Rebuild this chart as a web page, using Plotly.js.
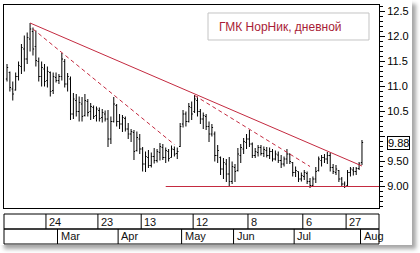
<!DOCTYPE html>
<html>
<head>
<meta charset="utf-8">
<script src="https://cdn.plot.ly/plotly-3.0.1.min.js"></script>
<style>
  html, body { margin: 0; padding: 0; background: #fff; }
  #chart { position: absolute; left: 0; top: 0; width: 412px; height: 245px;
           background: #fff; box-shadow: 4px 4px 4px rgba(0,0,0,0.35); }
</style>
</head>
<body>
<div id="chart"></div>
<script>
// Daily trading sessions, GMK Norilsk Nickel, Feb - Aug 2015
const tradingDays = [
  '2015-02-03','2015-02-04','2015-02-05','2015-02-06','2015-02-09','2015-02-10','2015-02-11','2015-02-12','2015-02-13','2015-02-16',
  '2015-02-17','2015-02-18','2015-02-19','2015-02-20','2015-02-24','2015-02-25','2015-02-26','2015-02-27','2015-03-02','2015-03-03',
  '2015-03-04','2015-03-05','2015-03-06','2015-03-10','2015-03-11','2015-03-12','2015-03-13','2015-03-16','2015-03-17','2015-03-18',
  '2015-03-19','2015-03-20','2015-03-23','2015-03-24','2015-03-25','2015-03-26','2015-03-27','2015-03-30','2015-03-31','2015-04-01',
  '2015-04-02','2015-04-03','2015-04-06','2015-04-07','2015-04-08','2015-04-09','2015-04-10','2015-04-13','2015-04-14','2015-04-15',
  '2015-04-16','2015-04-17','2015-04-20','2015-04-21','2015-04-22','2015-04-23','2015-04-24','2015-04-27','2015-04-28','2015-04-29',
  '2015-04-30','2015-05-05','2015-05-06','2015-05-07','2015-05-08','2015-05-12','2015-05-13','2015-05-14','2015-05-15','2015-05-18',
  '2015-05-19','2015-05-20','2015-05-21','2015-05-22','2015-05-25','2015-05-26','2015-05-27','2015-05-28','2015-05-29','2015-06-01',
  '2015-06-02','2015-06-03','2015-06-04','2015-06-05','2015-06-08','2015-06-09','2015-06-10','2015-06-11','2015-06-15','2015-06-16',
  '2015-06-17','2015-06-18','2015-06-19','2015-06-22','2015-06-23','2015-06-24','2015-06-25','2015-06-26','2015-06-29','2015-06-30',
  '2015-07-01','2015-07-02','2015-07-03','2015-07-06','2015-07-07','2015-07-08','2015-07-09','2015-07-10','2015-07-13','2015-07-14',
  '2015-07-15','2015-07-16','2015-07-17','2015-07-20','2015-07-21','2015-07-22','2015-07-23','2015-07-24','2015-07-27','2015-07-28',
  '2015-07-29','2015-07-30','2015-07-31','2015-08-03'
];

// Prices, thousand RUB
const openVals = [
  11.15, 11.28, 10.95, 10.93, 11.20, 11.40, 11.75, 11.55, 11.95, 12.10,
  11.80, 11.50, 11.20, 11.35, 11.12, 11.28, 10.92, 11.18, 11.12, 11.20,
  11.50, 11.05, 11.15, 10.45, 10.72, 10.50, 10.65, 10.42, 10.70, 10.50,
  10.58, 10.42, 10.52, 10.38, 10.45, 10.35, 9.95, 10.30, 10.62, 10.30,
  10.25, 10.36, 10.15, 10.05, 10.08, 9.72, 9.95, 9.75, 9.45, 9.58,
  9.42, 9.60, 9.52, 9.68, 9.78, 9.58, 9.70, 9.58, 9.74, 9.66,
  9.80, 10.25, 10.45, 10.30, 10.58, 10.50, 10.72, 10.50, 10.35, 10.40,
  10.20, 10.05, 10.05, 9.62, 9.58, 9.35, 9.45, 9.25, 9.10, 9.38,
  9.32, 9.62, 9.75, 9.88, 9.95, 9.85, 9.62, 9.68, 9.78, 9.66,
  9.72, 9.62, 9.70, 9.55, 9.63, 9.52, 9.45, 9.55, 9.65, 9.48,
  9.28, 9.30, 9.15, 9.20, 9.26, 9.10, 9.02, 9.15, 9.32, 9.52,
  9.58, 9.55, 9.62, 9.38, 9.28, 9.32, 9.15, 9.05, 9.02, 9.28,
  9.33, 9.30, 9.36, 9.48
];
const highVals = [
  11.45, 11.30, 11.10, 11.28, 11.50, 11.85, 12.02, 12.08, 12.27, 12.18,
  12.12, 11.58, 11.50, 11.45, 11.40, 11.30, 11.28, 11.28, 11.25, 11.67,
  11.55, 11.27, 11.20, 10.87, 10.85, 10.80, 10.79, 10.85, 10.75, 10.67,
  10.62, 10.60, 10.58, 10.55, 10.52, 10.53, 10.40, 10.79, 10.65, 10.45,
  10.43, 10.40, 10.27, 10.15, 10.13, 10.10, 10.05, 9.79, 9.70, 9.73,
  9.68, 9.77, 9.75, 9.87, 9.85, 9.78, 9.75, 9.82, 9.80, 9.78,
  10.27, 10.53, 10.50, 10.67, 10.70, 10.83, 10.80, 10.55, 10.48, 10.45,
  10.30, 10.25, 10.10, 9.83, 9.60, 9.57, 9.55, 9.59, 9.50, 9.45,
  9.77, 9.85, 9.97, 10.05, 10.13, 9.88, 9.77, 9.83, 9.83, 9.80,
  9.79, 9.78, 9.75, 9.72, 9.70, 9.63, 9.60, 9.75, 9.66, 9.49,
  9.40, 9.30, 9.28, 9.33, 9.30, 9.17, 9.20, 9.39, 9.60, 9.63,
  9.65, 9.69, 9.67, 9.45, 9.43, 9.33, 9.19, 9.10, 9.33, 9.39,
  9.39, 9.39, 9.49, 9.93
];
const lowVals = [
  11.10, 10.90, 10.72, 10.92, 11.12, 11.25, 11.30, 11.45, 11.70, 11.62,
  11.40, 11.10, 11.00, 11.00, 10.98, 10.80, 10.85, 11.08, 11.05, 11.12,
  10.98, 10.90, 10.33, 10.35, 10.40, 10.30, 10.30, 10.40, 10.40, 10.33,
  10.35, 10.30, 10.30, 10.28, 10.30, 9.79, 9.85, 10.28, 10.20, 10.15,
  10.09, 10.10, 9.95, 9.89, 9.53, 9.70, 9.65, 9.30, 9.29, 9.37,
  9.38, 9.46, 9.48, 9.52, 9.53, 9.47, 9.50, 9.58, 9.60, 9.55,
  9.79, 10.18, 10.20, 10.28, 10.33, 10.47, 10.40, 10.25, 10.15, 10.13,
  9.89, 10.00, 9.50, 9.47, 9.23, 9.15, 9.09, 8.99, 9.05, 9.09,
  9.30, 9.47, 9.65, 9.75, 9.79, 9.57, 9.57, 9.60, 9.62, 9.59,
  9.58, 9.55, 9.50, 9.52, 9.47, 9.37, 9.40, 9.45, 9.45, 9.20,
  9.19, 9.09, 9.10, 9.13, 9.05, 8.97, 9.00, 9.07, 9.30, 9.40,
  9.47, 9.45, 9.30, 9.25, 9.23, 9.09, 9.00, 8.97, 9.00, 9.20,
  9.22, 9.23, 9.33, 9.43
];
const closeVals = [
  11.38, 10.98, 10.85, 11.20, 11.42, 11.78, 11.55, 11.98, 12.15, 11.75,
  11.52, 11.20, 11.38, 11.10, 11.30, 10.90, 11.20, 11.12, 11.20, 11.55,
  11.05, 11.20, 10.45, 10.75, 10.50, 10.68, 10.40, 10.72, 10.48, 10.60,
  10.40, 10.55, 10.36, 10.48, 10.35, 9.95, 10.30, 10.65, 10.30, 10.25,
  10.38, 10.15, 10.05, 10.10, 9.70, 9.98, 9.75, 9.45, 9.60, 9.42,
  9.60, 9.52, 9.70, 9.80, 9.58, 9.72, 9.56, 9.75, 9.65, 9.70,
  10.20, 10.45, 10.30, 10.60, 10.45, 10.75, 10.50, 10.35, 10.42, 10.20,
  10.05, 10.18, 9.62, 9.72, 9.35, 9.48, 9.25, 9.10, 9.40, 9.30,
  9.65, 9.78, 9.90, 9.95, 9.85, 9.62, 9.70, 9.78, 9.66, 9.74,
  9.62, 9.70, 9.55, 9.65, 9.52, 9.45, 9.55, 9.65, 9.50, 9.28,
  9.32, 9.15, 9.22, 9.28, 9.10, 9.02, 9.15, 9.30, 9.55, 9.58,
  9.55, 9.62, 9.38, 9.30, 9.35, 9.15, 9.05, 9.00, 9.28, 9.35,
  9.30, 9.36, 9.45, 9.88
];

// Trend lines drawn on the chart
const resistanceDates = ['2015-02-13', '2015-08-03'];
const resistanceValues = [12.27, 9.41];
const fastTrendDates = ['2015-02-16', '2015-04-28'];
const fastTrendValues = [12.15, 9.84];
const mayTrendDates = ['2015-05-12', '2015-07-08'];
const mayTrendValues = [10.82, 9.40];
const supportStartDate = '2015-04-23';
const supportLevel = 9.00;

// Date scale rows
const weekTickDates = ['2015-02-24','2015-03-23','2015-04-13','2015-05-12','2015-06-08','2015-07-06','2015-07-27'];
const weekTickLabels = ['24','23','13','12','8','6','27'];
const monthTickDates = ['2015-03-02','2015-04-01','2015-05-05','2015-06-01','2015-07-01','2015-08-03'];
const monthTickLabels = ['Mar','Apr','May','Jun','Jul','Aug'];

// Price scale (the 10.0 mark sits under the last-price box, so it carries no label)
const priceTickVals = [9.0, 9.5, 10.0, 10.5, 11.0, 11.5, 12.0, 12.5];
const priceTickText = ['9.00', '9.50', '', '10.5', '11.0', '11.5', '12.0', '12.5'];

const chartTitle = 'ГМК НорНик, дневной';

const pos = d => tradingDays.indexOf(d);
const xIdx = tradingDays.map((d, i) => i);
const xRange = [-1.04, 128.9];
const yRange = [8.57, 12.63];

const lineColor = '#c42a40';
const fontFam = '"Liberation Sans", Arial, sans-serif';

const traces = [
  { type: 'scatter', mode: 'lines', x: resistanceDates.map(pos), y: resistanceValues,
    line: { color: lineColor, width: 1 }, hoverinfo: 'skip' },
  { type: 'scatter', mode: 'lines', x: fastTrendDates.map(pos), y: fastTrendValues,
    line: { color: lineColor, width: 1, dash: '4px,3px' }, hoverinfo: 'skip' },
  { type: 'scatter', mode: 'lines', x: mayTrendDates.map(pos), y: mayTrendValues,
    line: { color: lineColor, width: 1, dash: '4px,3px' }, hoverinfo: 'skip' },
  { type: 'scatter', mode: 'lines', x: [pos(supportStartDate), xRange[1]], y: [supportLevel, supportLevel],
    line: { color: lineColor, width: 1 }, hoverinfo: 'skip' },
  { type: 'ohlc', x: xIdx, open: openVals, high: highVals, low: lowVals, close: closeVals,
    tickwidth: 0.4,
    increasing: { line: { color: '#000', width: 1 } },
    decreasing: { line: { color: '#000', width: 1 } } }
];

// paper-y for pixel rows of the date table (plot area spans 203 px)
const plotH = 203;
const py = px => -(px - 208) / plotH;
const row1Top = py(214), row1Bot = py(229), row2Bot = py(244);

const shapes = [
  { type: 'rect', xref: 'paper', yref: 'paper', x0: 0, x1: 1, y0: row1Bot, y1: row1Top,
    line: { color: '#000', width: 1 }, fillcolor: 'rgba(0,0,0,0)' },
  { type: 'rect', xref: 'paper', yref: 'paper', x0: 0, x1: 1, y0: row2Bot, y1: row1Bot,
    line: { color: '#000', width: 1 }, fillcolor: 'rgba(0,0,0,0)' },
  // caption frame
  { type: 'rect', xref: 'paper', yref: 'paper', x0: 0.544, x1: 0.9733, y0: 0.8276, y1: 0.9606,
    line: { color: '#c4c4c4', width: 1 }, fillcolor: '#fff', layer: 'below' }
];
weekTickDates.forEach(d => shapes.push({ type: 'line', xref: 'x', yref: 'paper',
  x0: pos(d) - 0.5, x1: pos(d) - 0.5, y0: row1Bot, y1: row1Top, line: { color: '#000', width: 1 } }));
monthTickDates.forEach(d => shapes.push({ type: 'line', xref: 'x', yref: 'paper',
  x0: pos(d) - 0.5, x1: pos(d) - 0.5, y0: row2Bot, y1: row1Bot, line: { color: '#000', width: 1 } }));

const annotations = [];
weekTickDates.forEach((d, k) => annotations.push({ xref: 'x', yref: 'paper', x: pos(d) - 0.5, y: (row1Top + row1Bot) / 2,
  xanchor: 'left', yanchor: 'middle', xshift: 1, showarrow: false, text: weekTickLabels[k],
  font: { family: fontFam, size: 11, color: '#111' } }));
monthTickDates.forEach((d, k) => annotations.push({ xref: 'x', yref: 'paper', x: pos(d) - 0.5, y: (row1Bot + row2Bot) / 2,
  xanchor: 'left', yanchor: 'middle', xshift: 1, showarrow: false, text: monthTickLabels[k],
  font: { family: fontFam, size: 11, color: '#111' } }));

annotations.push({ xref: 'paper', yref: 'paper', x: 0.568, y: 0.894, xanchor: 'left', yanchor: 'middle',
  showarrow: false, text: chartTitle, font: { family: fontFam, size: 12, color: '#a81c36' } });

const lastClose = closeVals[closeVals.length - 1];
annotations.push({ xref: 'paper', yref: 'y', x: 1.0213, y: lastClose, xanchor: 'left', yanchor: 'middle',
  showarrow: false, text: lastClose.toFixed(2), bgcolor: '#fff', bordercolor: '#000', borderwidth: 1, borderpad: 0,
  font: { family: fontFam, size: 11, color: '#000' } });

const layout = {
  width: 412, height: 245,
  margin: { l: 4, r: 33, t: 5, b: 37, pad: 0 },
  paper_bgcolor: '#fff', plot_bgcolor: '#fff',
  showlegend: false,
  xaxis: { type: 'linear', range: xRange, showticklabels: false, showgrid: false, zeroline: false,
    showline: true, mirror: true, linecolor: '#000', linewidth: 1, ticks: '',
    rangeslider: { visible: false }, fixedrange: true },
  yaxis: { side: 'right', range: yRange, showgrid: false, zeroline: false,
    showline: true, mirror: true, linecolor: '#000', linewidth: 1,
    tickmode: 'array', tickvals: priceTickVals, ticktext: priceTickText,
    ticks: 'outside', ticklen: 5, tickcolor: '#000', tickwidth: 1,
    minor: { dtick: 0.1, tick0: 0, ticks: 'outside', ticklen: 3, tickcolor: '#000', tickwidth: 1 },
    tickfont: { family: fontFam, size: 11, color: '#000' }, fixedrange: true },
  shapes: shapes,
  annotations: annotations
};

Plotly.newPlot('chart', traces, layout, { staticPlot: true, displayModeBar: false });
</script>
</body>
</html>
